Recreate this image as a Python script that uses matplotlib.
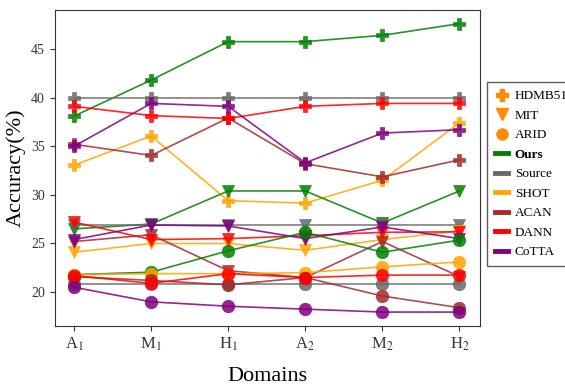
import matplotlib
matplotlib.use("Agg")
import matplotlib.pyplot as plt
from matplotlib.lines import Line2D

plt.rcParams['font.family'] = ['Liberation Serif', 'DejaVu Serif']
plt.rcParams['mathtext.fontset'] = 'stix'

domains = ['A$_1$', 'M$_1$', 'H$_1$', 'A$_2$', 'M$_2$', 'H$_2$']
methods = ['Ours', 'Source', 'SHOT', 'ACAN', 'DANN', 'CoTTA']
colors = {'Ours': 'green', 'Source': 'dimgray', 'SHOT': 'orange',
          'ACAN': 'brown', 'DANN': 'red', 'CoTTA': 'purple'}

hdmb51 = {
    'Ours':   [38.1, 41.8, 45.75, 45.75, 46.4, 47.6],
    'Source': [40.0, 40.0, 40.0, 40.0, 40.0, 40.0],
    'SHOT':   [33.05, 36.05, 29.4, 29.15, 31.5, 37.4],
    'ACAN':   [35.2, 34.05, 37.9, 33.2, 31.85, 33.6],
    'DANN':   [39.1, 38.15, 37.85, 39.1, 39.4, 39.4],
    'CoTTA':  [35.0, 39.4, 39.1, 33.3, 36.35, 36.7],
}
mit = {
    'Ours':   [26.5, 27.0, 30.4, 30.4, 27.1, 30.4],
    'Source': [26.9, 26.9, 26.9, 26.9, 26.9, 26.9],
    'SHOT':   [24.1, 25.0, 25.0, 24.3, 25.4, 26.3],
    'ACAN':   [25.2, 25.9, 22.2, 21.5, 25.2, 21.6],
    'DANN':   [27.2, 25.4, 25.5, 25.8, 26.15, 26.2],
    'CoTTA':  [25.4, 26.9, 26.8, 25.5, 26.7, 25.5],
}
arid = {
    'Ours':   [21.8, 22.05, 24.25, 26.15, 24.1, 25.35],
    'Source': [20.8, 20.8, 20.8, 20.8, 20.8, 20.8],
    'SHOT':   [21.8, 21.9, 21.9, 22.0, 22.6, 23.1],
    'ACAN':   [21.6, 21.2, 20.75, 21.5, 19.6, 18.4],
    'DANN':   [21.7, 20.9, 21.9, 21.5, 21.75, 21.75],
    'CoTTA':  [20.5, 19.0, 18.55, 18.25, 17.95, 17.95],
}
datasets = [('HDMB51', 'P', hdmb51), ('MIT', 'v', mit), ('ARID', 'o', arid)]

fig = plt.figure(figsize=(5.65, 3.86), dpi=100)
ax = fig.add_axes([0.097, 0.155, 0.753, 0.819])
x = list(range(len(domains)))

for name, marker, data in datasets:
    for m in methods:
        ax.plot(x, data[m], color=colors[m], marker=marker, markersize=9,
                linewidth=1.2, alpha=0.85, markeredgewidth=0.5)

ax.set_xlim(-0.25, 5.27)
ax.set_ylim(16.5, 49.0)
ax.set_yticks([20, 25, 30, 35, 40, 45])
ax.set_xticks(x)
ax.set_xticklabels(domains, fontsize=12)
ax.tick_params(axis='y', labelsize=10, colors='#333333')
ax.tick_params(axis='x', colors='#333333')
for s in ax.spines.values():
    s.set_color('#333333')
ax.set_xlabel('Domains', fontsize=16, labelpad=10)
ax.set_ylabel('Accuracy(%)', fontsize=16)

handles = []
for name, marker, data in datasets:
    handles.append(Line2D([], [], color='darkorange', marker=marker, linestyle='None',
                          markersize=8, label=name))
for m in methods:
    handles.append(Line2D([], [], color=colors[m], linewidth=3.5, label=m))

leg = ax.legend(handles=handles, loc='upper left', bbox_to_anchor=(1.016, 0.772),
                fontsize=9.5, frameon=True, fancybox=False, edgecolor='#333333',
                handlelength=1.0, handletextpad=0.5, borderaxespad=0,
                labelspacing=0.55, borderpad=0.6)
for t in leg.get_texts():
    if t.get_text() == 'Ours':
        t.set_fontweight('bold')

fig.savefig('out.png', dpi=100)
